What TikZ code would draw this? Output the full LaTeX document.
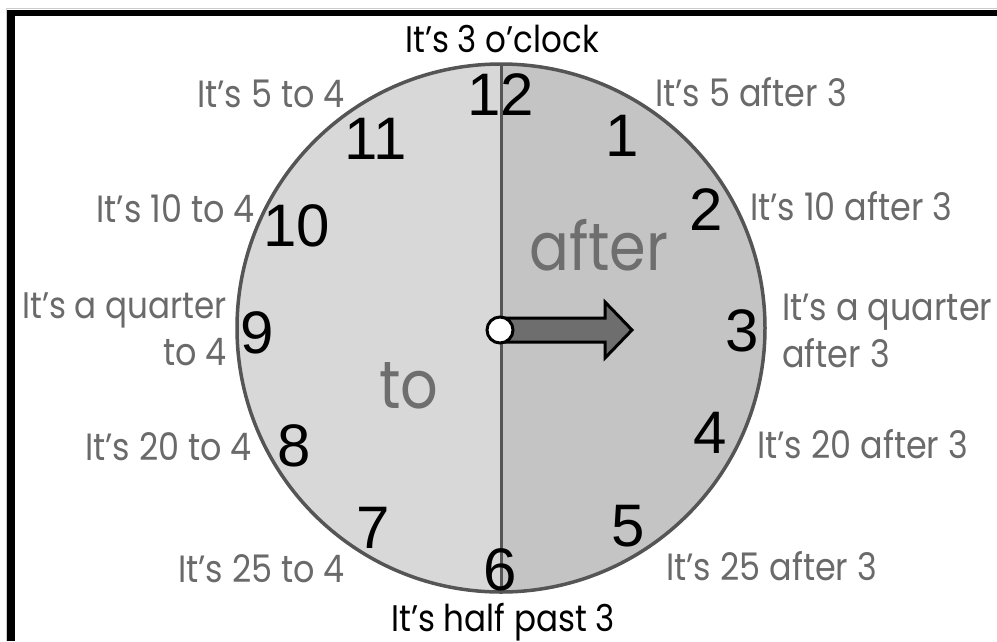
\documentclass[tikz,border=0pt]{standalone}
\usepackage{fontspec}
\setmainfont{Liberation Sans}
\newfontfamily\labelfont{Poppins}[FakeStretch=0.88]
\definecolor{leftgray}{HTML}{D8D8D8}
\definecolor{rightgray}{HTML}{C4C4C4}
\definecolor{rimgray}{HTML}{555555}
\definecolor{labgray}{HTML}{6A6A6A}
\definecolor{handgray}{HTML}{6E6E6E}
\begin{document}
\begin{tikzpicture}[x=1pt,y=-1pt,
  num/.style={inner sep=0pt, font=\fontsize{60}{60}\selectfont, text=black},
  lab/.style={inner sep=0pt, font=\labelfont\fontsize{38}{38}\selectfont, text=labgray},
  blab/.style={inner sep=0pt, font=\labelfont\fontsize{37}{37}\selectfont, text=black},
  big/.style={inner sep=0pt, font=\labelfont\fontsize{67}{67}\selectfont, text=handgray}]
\useasboundingbox (0,0) rectangle (997,641);
% frame
\draw[gray!40, line width=1pt] (6,641) -- (6,8.5) -- (997,8.5);
\fill[black] (7,10) rectangle (997,16);
\fill[black] (7,10) rectangle (15,641);
% clock face
\node[circle, minimum size=528pt, inner sep=0pt, fill=leftgray] (clock) at (501,328) {};
\begin{scope}
\clip (501,0) rectangle (997,641);
\fill[rightgray] (clock.center) circle (264pt);
\end{scope}
\draw[rimgray, line width=3.5pt] (clock.center) circle (264pt);
\draw[rimgray, line width=3pt] (clock.north) -- (clock.south);
% half labels
\node[big, anchor=base west] (after) at (529,270) {after};
\node[big, anchor=base west] (to) at (379,408) {to};
% numbers
\node[num] (n12) at (501,95) {12};
\node[num] (n1) at (622,136) {1};
\node[num] (n2) at (706,210) {2};
\node[num] (n3) at (742,331) {3};
\node[num] (n4) at (710,433) {4};
\node[num] (n5) at (628,526) {5};
\node[num] (n6) at (500,570) {6};
\node[num] (n7) at (373,528) {7};
\node[num] (n8) at (294,446) {8};
\node[num] (n9) at (257,333) {9};
\node[num] (n10) at (297,226) {10};
\node[num] (n11) at (376,139) {11};
% hand
\coordinate (hc) at (500,330);
\draw[black, line width=3pt, line join=miter, fill=handgray]
  (500,318) -- (605,318) -- (605,302) -- (632,330) -- (605,358) -- (605,342) -- (500,342) -- cycle;
\node[circle, draw=black, line width=3pt, fill=white, minimum size=26pt, inner sep=0pt] (pivot) at (hc) {};
% time labels
\node[blab, anchor=base] (l0) at (502,52) {It’s 3 o’clock};
\node[lab, anchor=base east] (l55) at (345,107) {It’s 5 to 4};
\node[lab, anchor=base west] (l5) at (655,106) {It’s 5 after 3};
\node[lab, anchor=base east] (l50) at (255,222) {It’s 10 to 4};
\node[lab, anchor=base west] (l10) at (750,220) {It’s 10 after 3};
\node[lab, anchor=base east, font=\labelfont\fontsize{37}{37}\selectfont] (l45a) at (227,318) {It’s a quarter};
\node[lab, anchor=base east] (l45b) at (227,365) {to 4};
\node[lab, anchor=base west] (l15a) at (782,320) {It’s a quarter};
\node[lab, anchor=base west] (l15b) at (782,367) {after 3};
\node[lab, anchor=base east] (l40) at (252,460) {It’s 20 to 4};
\node[lab, anchor=base west] (l20) at (757,458) {It’s 20 after 3};
\node[lab, anchor=base east] (l35) at (345,582) {It’s 25 to 4};
\node[lab, anchor=base west] (l25) at (666,580) {It’s 25 after 3};
\node[blab, anchor=base] (l30) at (503,631) {It’s half past 3};
\end{tikzpicture}
\end{document}
